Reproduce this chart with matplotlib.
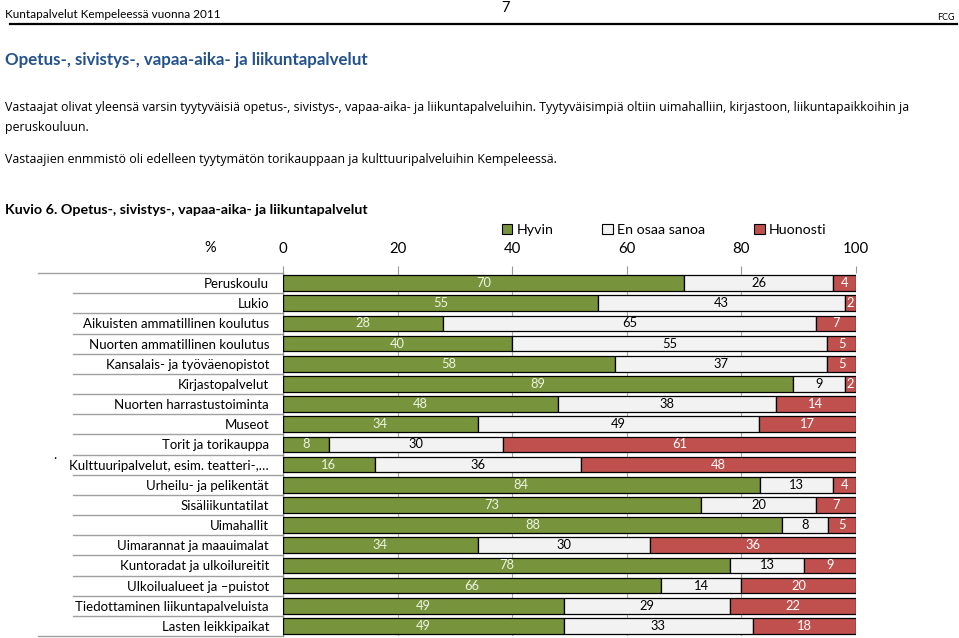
import matplotlib
matplotlib.use("Agg")
import matplotlib.pyplot as plt
import matplotlib.transforms as mtransforms
from matplotlib.patches import Patch
import numpy as np

categories = [
    "Peruskoulu",
    "Lukio",
    "Aikuisten ammatillinen koulutus",
    "Nuorten ammatillinen koulutus",
    "Kansalais- ja työväenopistot",
    "Kirjastopalvelut",
    "Nuorten harrastustoiminta",
    "Museot",
    "Torit ja torikauppa",
    "Kulttuuripalvelut, esim. teatteri-,…",
    "Urheilu- ja pelikentät",
    "Sisäliikuntatilat",
    "Uimahallit",
    "Uimarannat ja maauimalat",
    "Kuntoradat ja ulkoilureitit",
    "Ulkoilualueet ja –puistot",
    "Tiedottaminen liikuntapalveluista",
    "Lasten leikkipaikat",
]
hyvin = [70, 55, 28, 40, 58, 89, 48, 34, 8, 16, 84, 73, 88, 34, 78, 66, 49, 49]
en_osaa = [26, 43, 65, 55, 37, 9, 38, 49, 30, 36, 13, 20, 8, 30, 13, 14, 29, 33]
huonosti = [4, 2, 7, 5, 5, 2, 14, 17, 61, 48, 4, 7, 5, 36, 9, 20, 22, 18]
series_names = ["Hyvin", "En osaa sanoa", "Huonosti"]
x_ticks = [0, 20, 40, 60, 80, 100]

GREEN = "#77933C"
GREY = "#F2F2F2"
RED = "#C0504D"
BLUE = "#24528C"

W, H = 959, 638
fig = plt.figure(figsize=(W / 100, H / 100), dpi=100)
fig.patch.set_facecolor("white")

calibri = "Lato"
body = "Open Sans"


def px(x, y):
    # pixel position (from top-left) -> figure fraction
    return x / W, 1 - y / H


# page header
fig.text(*px(5, 15), "Kuntapalvelut Kempeleessä vuonna 2011", family=calibri,
         fontsize=8.5, va="center", ha="left")
fig.text(*px(505, 8), "7", family=calibri, fontsize=10.5, va="center", ha="center")
fig.text(*px(955, 18), "FCG", family=calibri, fontsize=6.5, va="center", ha="right")
fig.add_artist(plt.Line2D([10 / W, 957 / W], [1 - 24 / H] * 2, color="black", lw=1.6))

fig.text(*px(5, 60), "Opetus-, sivistys-, vapaa-aika- ja liikuntapalvelut", family=calibri,
         fontsize=12.2, fontweight="bold", color=BLUE, va="center", ha="left")
fig.text(*px(5, 107), "Vastaajat olivat yleensä varsin tyytyväisiä opetus-, sivistys-, vapaa-aika- ja "
         "liikuntapalveluihin. Tyytyväisimpiä oltiin uimahalliin, kirjastoon, liikuntapaikkoihin ja",
         family=body, fontsize=8.9, va="center", ha="left")
fig.text(*px(5, 128), "peruskouluun.", family=body, fontsize=8.9, va="center", ha="left")
fig.text(*px(5, 160), "Vastaajien enmmistö oli edelleen tyytymätön torikauppaan ja kulttuuripalveluihin Kempeleessä.",
         family=body, fontsize=8.9, va="center", ha="left")
fig.text(*px(5, 210), "Kuvio 6. Opetus-, sivistys-, vapaa-aika- ja liikuntapalvelut", family=calibri,
         fontsize=10.3, fontweight="bold", va="center", ha="left")
fig.text(*px(210, 248), "%", family=calibri, fontsize=10.5, va="center", ha="center")
fig.text(*px(55, 455), ".", family=calibri, fontsize=10, va="center", ha="center")

# chart axes
left, right, top, bottom = 283, 856, 273, 636
ax = fig.add_axes([left / W, 1 - bottom / H, (right - left) / W, (bottom - top) / H])

vals = np.array([hyvin, en_osaa, huonosti], dtype=float)
shares = vals / vals.sum(axis=0) * 100
y = np.arange(len(categories))
colors = [GREEN, GREY, RED]
text_colors = ["#EEF3E2", "black", "white"]

start = np.zeros(len(categories))
for i in range(3):
    ax.barh(y, shares[i], left=start, height=0.78, color=colors[i], edgecolor="black",
            linewidth=0.9, zorder=3)
    for j in range(len(categories)):
        ax.text(start[j] + shares[i][j] / 2, y[j], str(int(vals[i][j])), ha="center", va="center",
                color=text_colors[i], family=calibri, fontsize=9.3, zorder=4)
    start += shares[i]

ax.set_xlim(0, 100)
ax.set_ylim(len(categories) - 0.5, -0.5)
ax.xaxis.tick_top()
ax.set_xticks(x_ticks)
ax.set_xticklabels([str(t) for t in x_ticks], family=calibri, fontsize=10.8)
ax.tick_params(axis="x", length=5, color="#999999", pad=7)
ax.set_yticks(y)
ax.set_yticklabels(categories, family=calibri, fontsize=9.5)
ax.tick_params(axis="y", length=0, pad=10)
ax.grid(axis="x", color="#A6A6A6", lw=0.8, zorder=0)
for s in ["top", "right", "bottom"]:
    ax.spines[s].set_visible(False)
ax.spines["left"].set_color("#888888")

# category separator lines
trans = mtransforms.blended_transform_factory(fig.transFigure, ax.transData)
for k in range(len(categories) + 1):
    x0 = 38 / W if k in (0, len(categories)) else 73 / W
    ax.plot([x0, left / W], [k - 0.5, k - 0.5], transform=trans, color="#A0A0A0", lw=1.0,
            clip_on=False, zorder=1)

handles = [Patch(facecolor=c, edgecolor="black", linewidth=0.8) for c in colors]
fig.legend(handles, series_names, loc="center", bbox_to_anchor=px(664, 230), ncol=3, frameon=False,
           prop={"family": calibri, "size": 10.3}, handlelength=0.75, handleheight=0.75,
           handletextpad=0.3, columnspacing=3.4)

fig.savefig("out.png", dpi=100, facecolor="white")
